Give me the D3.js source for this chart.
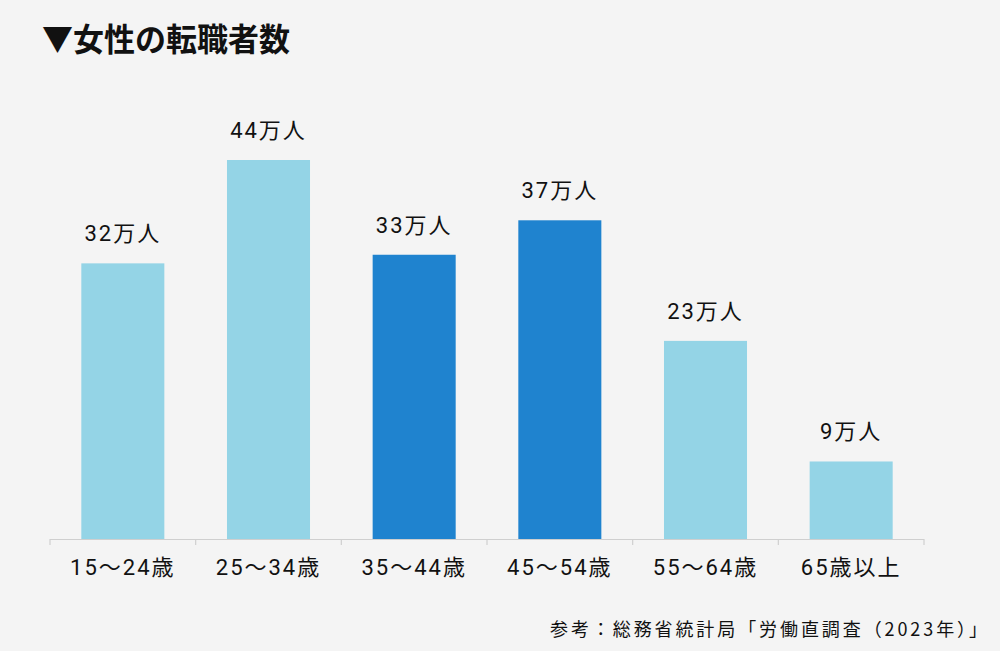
<!DOCTYPE html>
<html>
<head>
<meta charset="utf-8">
<script src="https://cdn.jsdelivr.net/npm/d3@7"></script>
<style>
  html, body { margin: 0; padding: 0; background: #f4f4f4; }
  svg { display: block; font-family: "Noto Sans CJK JP", "Noto Sans", sans-serif; }
  .lbl { font-family: "Roboto", "Noto Sans CJK JP", sans-serif; font-weight: 400; }
</style>
</head>
<body>
<svg id="chart" width="1000" height="651"></svg>
<script>
const categories = ["15～24歳", "25～34歳", "35～44歳", "45～54歳", "55～64歳", "65歳以上"];
const values = [32, 44, 33, 37, 23, 9];           // 万人
const highlighted = [false, false, true, true, false, false];
const titleText = "▼女性の転職者数";
const sourceText = "参考：総務省統計局「労働直調査（2023年）」";
const unitSuffix = "万人";

const svg = d3.select("#chart");
svg.append("rect").attr("width", 1000).attr("height", 651).attr("fill", "#f4f4f4");

const x = d3.scaleBand().domain(categories).range([50, 924]).paddingInner(0.43).paddingOuter(0.215);
const y = d3.scaleLinear().domain([0, 44]).range([539, 160]);

// title
svg.append("text")
  .attr("x", 42).attr("y", 51)
  .attr("font-size", 32).attr("font-weight", 700).attr("fill", "#111")
  .attr("textLength", 248).attr("lengthAdjust", "spacingAndGlyphs")
  .text(titleText);

// bars
svg.append("g").selectAll("rect").data(values).join("rect")
  .attr("x", (d, i) => x(categories[i]))
  .attr("width", x.bandwidth())
  .attr("y", d => y(d))
  .attr("height", d => y(0) - y(d))
  .attr("fill", (d, i) => highlighted[i] ? "#1f83cf" : "#94d4e6");

// value labels
svg.append("g").selectAll("text").data(values).join("text")
  .attr("class", "lbl")
  .attr("x", (d, i) => x(categories[i]) + x.bandwidth() / 2)
  .attr("y", d => y(d) - 22)
  .attr("text-anchor", "middle")
  .attr("font-size", 22).attr("fill", "#111")
  .attr("letter-spacing", "2px")
  .text(d => d + unitSuffix);

// axis
const axisG = svg.append("g").attr("transform", "translate(0,539)");
axisG.append("line").attr("x1", 50).attr("x2", 924).attr("y1", 0.5).attr("y2", 0.5)
  .attr("stroke", "#cfcfcf").attr("stroke-width", 1.2);
const boundaries = d3.range(categories.length + 1).map(i => 50 + i * x.step());
axisG.selectAll("line.tick").data(boundaries).join("line").attr("class", "tick")
  .attr("x1", d => d).attr("x2", d => d).attr("y1", 0).attr("y2", 6)
  .attr("stroke", "#cfcfcf").attr("stroke-width", 1.2);
axisG.selectAll("text").data(categories).join("text")
  .attr("class", "lbl")
  .attr("x", d => x(d) + x.bandwidth() / 2)
  .attr("y", 36)
  .attr("text-anchor", "middle")
  .attr("font-size", 22).attr("fill", "#111")
  .attr("letter-spacing", "2px")
  .text(d => d);

// source
svg.append("text")
  .attr("x", 550).attr("y", 636)
  .attr("font-size", 18).attr("fill", "#111")
  .attr("textLength", 437).attr("lengthAdjust", "spacing")
  .text(sourceText);
</script>
</body>
</html>
